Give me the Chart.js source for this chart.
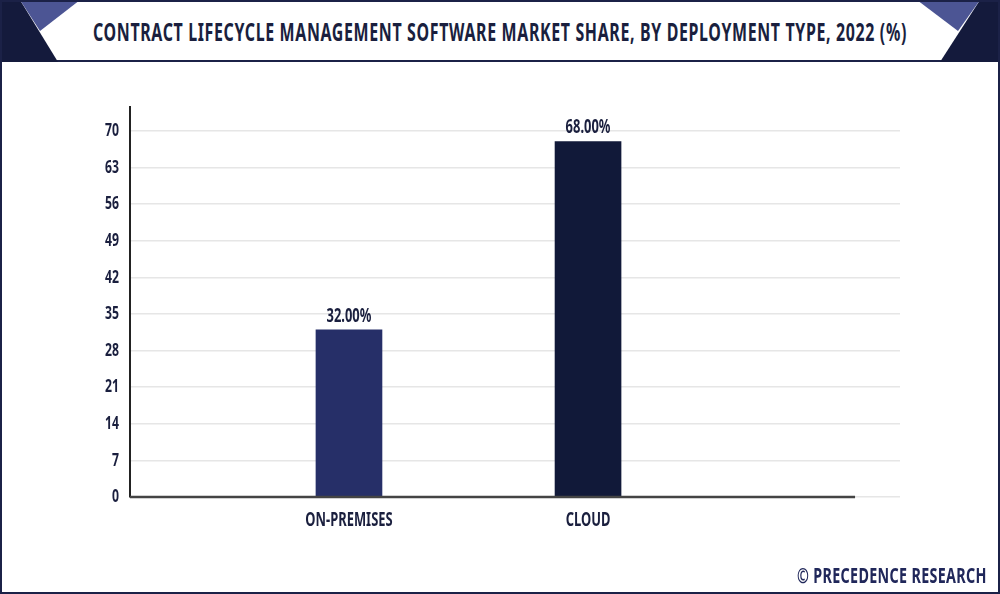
<!DOCTYPE html>
<html>
<head>
<meta charset="utf-8">
<script src="https://cdn.jsdelivr.net/npm/chart.js@4"></script>
<style>
  html, body { margin:0; padding:0; background:#fff; }
  #frame { position:relative; width:1000px; height:594px; overflow:hidden; background:#fff; }
  #border { position:absolute; left:0; top:0; width:996px; height:590px; border:2px solid #1b2147; pointer-events:none; z-index:5; }
  #titlebar { position:absolute; left:0; top:0; width:1000px; height:62px; border-bottom:2px solid #1b2147; box-sizing:border-box; }
  #titlebar svg { position:absolute; left:0; top:0; }
  #title { position:absolute; left:500px; top:15px; white-space:nowrap; transform-origin:0 0;
           font-family:"Noto Sans",sans-serif; font-weight:bold; font-size:25px; line-height:32px;
           letter-spacing:1px; color:#1a1f3e; }
  #footer { position:absolute; right:13px; top:561px; white-space:nowrap; transform-origin:100% 0;
            font-family:"Noto Sans",sans-serif; font-weight:bold; font-size:21px; line-height:28px;
            letter-spacing:0.5px; color:#20275a; }
  #chartbox { position:absolute; left:0; top:62px; width:1000px; height:500px; }
</style>
</head>
<body>
<div id="frame">
  <div id="titlebar">
    <svg width="1000" height="62">
      <polygon points="0,0 20,0 58,62 0,62" fill="#141a3c"/>
      <polygon points="20,0 80,0 40,31" fill="#4c5594"/>
      <polygon points="980,0 1000,0 1000,62 940,62" fill="#141a3c"/>
      <polygon points="917,0 980,0 958,31" fill="#4c5594"/>
    </svg>
    <div id="title">CONTRACT LIFECYCLE MANAGEMENT SOFTWARE MARKET SHARE, BY DEPLOYMENT TYPE, 2022 (%)</div>
  </div>
  <div id="chartbox"><canvas id="c"></canvas></div>
  <div id="footer">© PRECEDENCE RESEARCH</div>
  <div id="border"></div>
</div>
<script>
const categories = ["ON-PREMISES", "CLOUD"];
const shareValues = [32, 68];
const barColors = ["#262f68", "#111939"];
const yTicks = [0, 7, 14, 21, 28, 35, 42, 49, 56, 63, 70];

const FONT = '"Noto Sans", sans-serif';
const CONDENSE = 0.68;

// fit title / footer widths to reference
(function () {
  const t = document.getElementById('title');
  const s = 814 / t.offsetWidth;
  t.style.transform = 'translateX(-407px) scaleX(' + s + ')';
  const f = document.getElementById('footer');
  f.style.transform = 'scaleX(' + (190 / f.offsetWidth) + ')';
})();

// condense all canvas text horizontally (reference uses a narrow typeface)
const condensedText = {
  id: 'condensedText',
  beforeDraw(chart) {
    const ctx = chart.ctx;
    if (ctx._origFillText) return;
    const orig = ctx.fillText;
    ctx._origFillText = orig;
    ctx.fillText = function (t, x, y, mw) {
      const w = this.measureText(t).width * CONDENSE;
      return orig.call(this, t, x, y, mw !== undefined ? Math.min(mw, w) : w);
    };
  },
  afterDraw(chart) {
    const ctx = chart.ctx;
    if (ctx._origFillText) { ctx.fillText = ctx._origFillText; delete ctx._origFillText; }
  }
};

const valueLabels = {
  id: 'valueLabels',
  afterDatasetsDraw(chart) {
    const ctx = chart.ctx;
    const meta = chart.getDatasetMeta(0);
    ctx.save();
    ctx.font = 'bold 19px ' + FONT;
    ctx.fillStyle = '#1a1f3e';
    ctx.textAlign = 'center';
    ctx.textBaseline = 'bottom';
    meta.data.forEach((bar, i) => {
      ctx.fillText(shareValues[i].toFixed(2) + '%', bar.x, bar.y - 4);
    });
    ctx.restore();
  }
};

const baseLine = {
  id: 'baseLine',
  afterDatasetsDraw(chart) {
    const ctx = chart.ctx;
    const y = chart.scales.y.getPixelForValue(0);
    const x0 = chart.chartArea.left;
    const x1 = chart.scales.x.getPixelForValue(3.117);
    ctx.save();
    ctx.strokeStyle = '#444444';
    ctx.lineWidth = 2.5;
    ctx.beginPath();
    ctx.moveTo(x0, y);
    ctx.lineTo(x1, y);
    ctx.stroke();
    ctx.restore();
  }
};

new Chart(document.getElementById('c'), {
  type: 'bar',
  data: {
    datasets: [{
      data: shareValues.map((v, i) => ({ x: i + 1, y: v })),
      backgroundColor: barColors,
      barThickness: 66,
      borderWidth: 0
    }]
  },
  options: {
    responsive: true,
    maintainAspectRatio: false,
    animation: false,
    layout: { padding: { top: 45, right: 100, left: 0, bottom: 0 } },
    plugins: { legend: { display: false }, tooltip: { enabled: false } },
    scales: {
      x: {
        type: 'linear',
        offset: false,
        min: 0.084,
        max: 3.305,
        afterBuildTicks(scale) { scale.ticks = categories.map((c, i) => ({ value: i + 1 })); },
        afterFit(scale) { scale.height = 65; },
        grid: { display: false, drawTicks: false, offset: false },
        border: { display: false },
        ticks: {
          padding: 12,
          color: '#1a1f3e',
          font: { family: FONT, size: 19, weight: 'bold' },
          callback: (v) => categories[v - 1] || ''
        }
      },
      y: {
        min: 0,
        max: 74.6,
        afterBuildTicks(scale) { scale.ticks = yTicks.map(v => ({ value: v })); },
        afterFit(scale) { scale.width = 130; },
        grid: { color: '#e6e6e6', lineWidth: 1.5, drawTicks: false },
        border: { display: true, color: '#222222', width: 2 },
        ticks: {
          padding: 11,
          color: '#1a1f3e',
          font: { family: FONT, size: 18, weight: 'bold' }
        }
      }
    }
  },
  plugins: [condensedText, valueLabels, baseLine]
});
</script>
</body>
</html>
